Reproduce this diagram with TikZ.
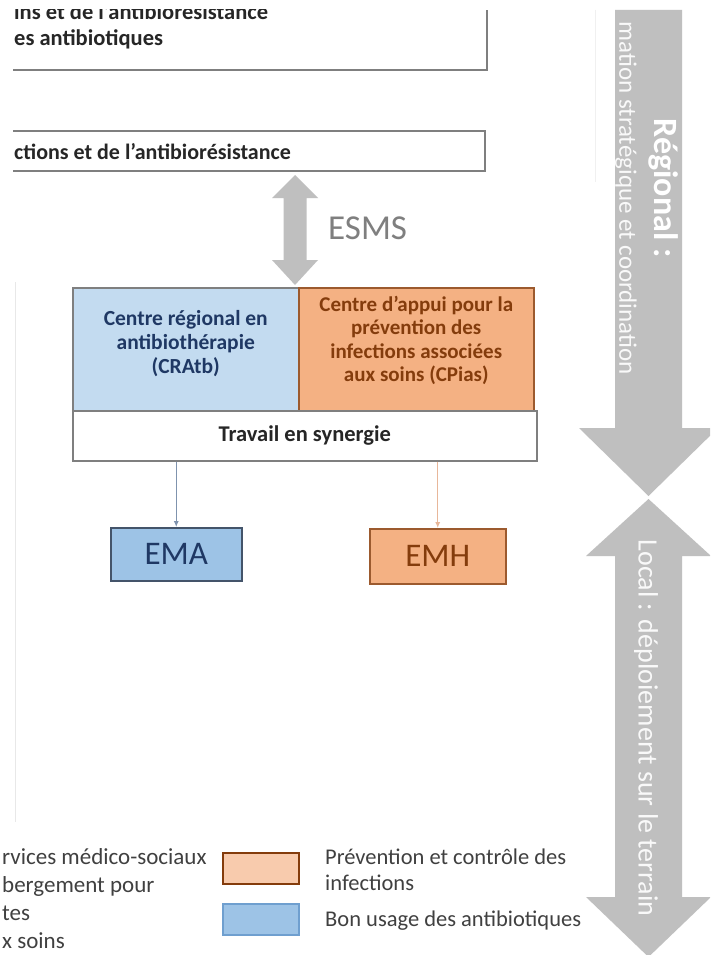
\documentclass[tikz,border=0pt]{standalone}
\usepackage{fontspec}
\setmainfont{Carlito}
\usetikzlibrary{arrows.meta}
\definecolor{arrowgray}{HTML}{BFBFBF}
\definecolor{boxgray}{HTML}{7F7F7F}
\definecolor{cratbfill}{HTML}{C3DBF0}
\definecolor{cpiasfill}{HTML}{F4B183}
\definecolor{darkblue}{HTML}{1F3864}
\definecolor{cpiastext}{HTML}{843C0C}
\definecolor{emafill}{HTML}{9DC3E6}
\definecolor{emaborder}{HTML}{44546A}
\definecolor{emhborder}{HTML}{9C5A2E}
\definecolor{legorange}{HTML}{F8CBAD}
\definecolor{legblue}{HTML}{9DC3E6}
\definecolor{legblueborder}{HTML}{6F9FCF}
\definecolor{txtgray}{HTML}{404040}
\definecolor{esmsgray}{HTML}{7F7F7F}
\definecolor{emaarrow}{HTML}{7F93AE}
\definecolor{emharrow}{HTML}{E8B79A}
\begin{document}
\begin{tikzpicture}[x=1pt,y=-1pt,
  boldtxt/.style={font=\fontsize{22.5}{26}\selectfont\bfseries, inner sep=0pt, text=black!85},
  legtxt/.style={font=\fontsize{22.5}{26}\selectfont, text=txtgray, inner sep=0pt},
  cell/.style={draw=boxgray, line width=1.5pt, inner sep=0pt},
  celltxt/.style={inner sep=0pt, align=center, font=\fontsize{21.5}{24}\selectfont\bfseries},
  teambox/.style={line width=1.5pt, inner sep=0pt, font=\fontsize{33}{38}\selectfont},
  swatch/.style={line width=1.5pt, minimum width=76pt, minimum height=31pt, inner sep=0pt},
  thinarrow/.style={-{Latex[length=6pt,width=5pt]}, line width=1pt}]
\useasboundingbox (0,0) rectangle (710,955);
\clip (0,0) rectangle (710,955);
\fill[white] (0,0) rectangle (710,955);

% faint frame lines
\draw[gray!18, line width=1pt] (15,282) -- (15,822);
\draw[gray!12, line width=1pt] (595,10) -- (595,182);

% top box (cropped)
\draw[boxgray, line width=2pt] (13,70) -- (487,70) -- (487,10);
\begin{scope}
  \clip (0,10) rectangle (600,80);
  \node[boldtxt, anchor=base west] (top1) at (14,20) {ins et de l'antibiorésistance};
\end{scope}
\node[boldtxt, anchor=base west] (top2) at (14,46) {es antibiotiques};

% second box (cropped)
\node[minimum width=472pt, minimum height=40pt, inner sep=0pt, anchor=north west] (box2) at (13,131) {};
\draw[boxgray, line width=2pt] (box2.north west) -- (box2.north east) -- (box2.south east) -- (box2.south west);
\node[boldtxt, font=\fontsize{22}{26}\selectfont\bfseries, anchor=base west] (box2txt) at (14,159) {ctions et de l'antibiorésistance};

% ESMS double arrow
\coordinate (esmsT) at (295,175);
\fill[arrowgray] (esmsT) -- ++(23,23) -- ++(-11.5,0) -- ++(0,62) -- ++(11.5,0)
  -- ++(-23,25) -- ++(-23,-25) -- ++(11.5,0) -- ++(0,-62) -- ++(-11.5,0) -- cycle;
\node[font=\fontsize{35}{40}\selectfont, text=esmsgray, anchor=base west, inner sep=0pt] (esms) at (328,239) {ESMS};

% centres
\node[cell, fill=cratbfill, minimum width=226pt, minimum height=123pt, anchor=north west] (cratb) at (72,287) {};
\node[celltxt, text=darkblue] (cratbtxt) at ([yshift=6pt]cratb.center)
  {Centre régional en\\antibiothérapie\\(CRAtb)};
\node[cell, fill=cpiasfill, draw=emhborder, minimum width=235pt, minimum height=123pt, anchor=north west] (cpias) at (298,287) {};
\node[celltxt, text=cpiastext, font=\fontsize{21}{23.5}\selectfont\bfseries] (cpiastxt) at ([yshift=9pt]cpias.center)
  {Centre d'appui pour la\\prévention des\\infections associées\\aux soins (CPias)};
\node[cell, fill=white, text=black!85, minimum width=464pt, minimum height=50pt, anchor=north west,
  font=\fontsize{22.5}{26}\selectfont\bfseries] (travail) at (72,410)
  {Travail en synergie};

% teams
\node[teambox, draw=emaborder, fill=emafill, text=darkblue, minimum width=131pt, minimum height=53pt, anchor=north west] (ema) at (110,527) {EMA};
\node[teambox, draw=emhborder, fill=cpiasfill, text=cpiastext, minimum width=136pt, minimum height=55pt, anchor=north west] (emh) at (369,528) {EMH};
\draw[thinarrow, emaarrow] (travail.south -| ema.north) -- (ema.north);
\draw[thinarrow, emharrow] (travail.south -| emh.north) -- (emh.north);

% regional arrow
\fill[arrowgray] (615,10) -- (682,10) -- (682,428) -- (718,428) -- (648.5,496) -- (579,428) -- (615,428) -- cycle;
\node[font=\fontsize{34}{38}\selectfont\bfseries, text=white, rotate=-90, inner sep=0pt] (reg1) at (664,188) {Régional :};
\node[font=\fontsize{25}{30}\selectfont, text=white!95!gray, rotate=-90, inner sep=0pt, anchor=east] (reg2) at (626,375) {mation stratégique et coordination};

% local arrow
\fill[arrowgray] (648.5,499) -- (711,556) -- (682,556) -- (682,897) -- (711,897) -- (648.5,957)
  -- (586,897) -- (615,897) -- (615,556) -- (586,556) -- cycle;
\node[font=\fontsize{28}{32}\selectfont, text=white!95!gray, rotate=-90, inner sep=0pt] (loc) at (646,728) {Local : déploiement sur le terrain};

% legend
\node[legtxt, font=\fontsize{23}{26}\selectfont, anchor=base west] (l1) at (2,864) {rvices médico-sociaux};
\node[legtxt, font=\fontsize{23}{26}\selectfont, anchor=base west] (l2) at (2,892) {bergement pour};
\node[legtxt, font=\fontsize{23}{26}\selectfont, anchor=base west] (l3) at (2,920) {tes};
\node[legtxt, font=\fontsize{23}{26}\selectfont, anchor=base west] (l4) at (2,948) {x soins};
\node[swatch, draw=cpiastext, fill=legorange, anchor=north west] (swo) at (222,852) {};
\node[swatch, draw=legblueborder, fill=legblue, anchor=north west] (swb) at (222,903) {};
\node[legtxt, anchor=base west] (lo1) at (325,864) {Prévention et contrôle des};
\node[legtxt, anchor=base west] (lo2) at (325,890) {infections};
\node[legtxt, anchor=base west] (lb1) at (325,926) {Bon usage des antibiotiques};
\end{tikzpicture}
\end{document}
